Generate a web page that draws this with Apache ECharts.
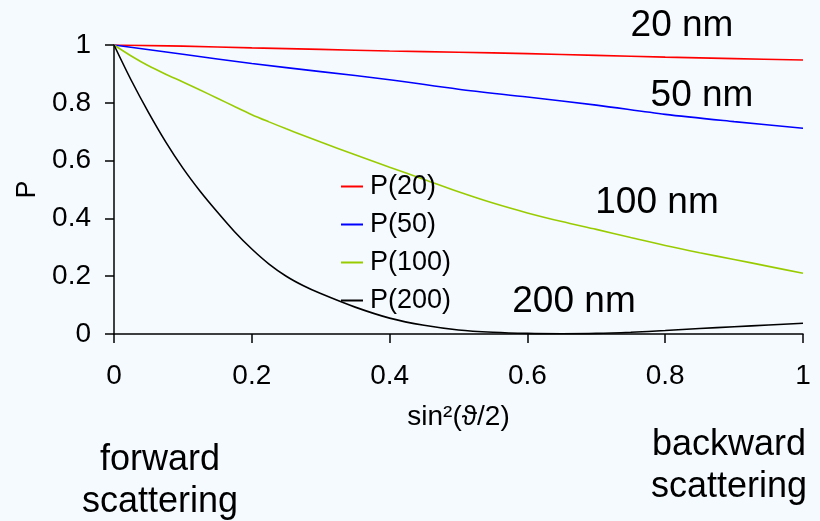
<!DOCTYPE html>
<html>
<head>
<meta charset="utf-8">
<script src="https://cdn.jsdelivr.net/npm/echarts@6/dist/echarts.min.js"></script>
<style>
html,body{margin:0;padding:0;background:#f5faff;}
#c{width:820px;height:521px;}
</style>
</head>
<body>
<div id="c"></div>
<script>
// Data
var seriesNames = ['P(20)', 'P(50)', 'P(100)', 'P(200)'];
var xCoarse = [0, 0.1, 0.2, 0.3, 0.4, 0.5, 0.6, 0.7, 0.8, 0.9, 1];
var xFine = [0, 0.025, 0.05, 0.075, 0.1, 0.125, 0.15, 0.175, 0.2, 0.225, 0.25, 0.275, 0.3, 0.35, 0.4, 0.45, 0.5, 0.55, 0.6, 0.65, 0.7, 0.75, 0.8, 0.85, 0.9, 0.95, 1];
var p20 = [1, 0.996, 0.99, 0.985, 0.979, 0.975, 0.97, 0.964, 0.958, 0.953, 0.948];
var p50 = [1, 0.968, 0.936, 0.908, 0.88, 0.847, 0.82, 0.792, 0.76, 0.735, 0.712];
var p100 = [1, 0.962, 0.928, 0.899, 0.872, 0.844, 0.816, 0.787, 0.759, 0.734, 0.710, 0.687, 0.664, 0.62, 0.577, 0.535, 0.492, 0.453, 0.419, 0.389, 0.362, 0.334, 0.306, 0.281, 0.258, 0.234, 0.210];
var p200 = [1, 0.878, 0.767, 0.665, 0.574, 0.494, 0.422, 0.354, 0.294, 0.242, 0.200, 0.167, 0.140, 0.093, 0.055, 0.03, 0.014, 0.006, 0.002, 0.001, 0.002, 0.006, 0.012, 0.019, 0.025, 0.031, 0.037];
var sizeLabels = ['20 nm', '50 nm', '100 nm', '200 nm'];
var sideLabels = ['forward\nscattering', 'backward\nscattering'];

function pairs(xs, ys) { return xs.map(function (x, i) { return [x, ys[i]]; }); }

var FONT = '"Liberation Sans", Arial, sans-serif';
var colors = ['#ff0000', '#0000ff', '#99cc00', '#000000'];
var chart = echarts.init(document.getElementById('c'));

function lineSeries(i, xs, ys, sm) {
  return { name: seriesNames[i], type: 'line', data: pairs(xs, ys), showSymbol: false, smooth: sm,
           color: colors[i], lineStyle: { width: 1.6, color: colors[i] } };
}

var option = {
  backgroundColor: '#f5faff',
  animation: false,
  textStyle: { fontFamily: FONT },
  grid: { left: 114, right: 17, top: 45, bottom: 187, containLabel: false },
  legend: {
    orient: 'vertical',
    left: 336,
    top: 167,
    itemWidth: 22,
    itemHeight: 2,
    itemGap: 9,
    icon: 'rect',
    data: seriesNames,
    textStyle: { fontSize: 27, color: '#000', fontFamily: FONT, lineHeight: 29, padding: [0, 0, 0, 2] }
  },
  xAxis: {
    type: 'value', min: 0, max: 1, interval: 0.2,
    name: 'sin²(ϑ/2)', nameLocation: 'middle', nameGap: 69,
    nameTextStyle: { fontSize: 28, color: '#000', fontFamily: FONT },
    axisLine: { show: true, lineStyle: { color: '#000', width: 1.5 } },
    axisTick: { show: true, inside: false, length: 9, lineStyle: { color: '#000', width: 1.5 } },
    axisLabel: { fontSize: 28, color: '#000', margin: 28, fontFamily: FONT },
    splitLine: { show: false }
  },
  yAxis: {
    type: 'value', min: 0, max: 1, interval: 0.2,
    name: 'P', nameLocation: 'middle', nameGap: 68, nameRotate: 90,
    nameTextStyle: { fontSize: 27, color: '#000', fontFamily: FONT },
    axisLine: { show: true, lineStyle: { color: '#000', width: 1.5 } },
    axisTick: { show: true, inside: false, length: 9, lineStyle: { color: '#000', width: 1.5 } },
    axisLabel: { fontSize: 28, color: '#000', margin: 23, fontFamily: FONT },
    splitLine: { show: false }
  },
  series: [
    lineSeries(0, xCoarse, p20, 0.3),
    lineSeries(1, xCoarse, p50, 0.3),
    lineSeries(2, xFine, p100, 0.3),
    lineSeries(3, xFine, p200, 0.3)
  ],
  graphic: [
    { type: 'text', x: 682, y: 26, style: { text: sizeLabels[0], font: '37px ' + FONT, fill: '#000', textAlign: 'center', textVerticalAlign: 'middle' } },
    { type: 'text', x: 702, y: 96, style: { text: sizeLabels[1], font: '37px ' + FONT, fill: '#000', textAlign: 'center', textVerticalAlign: 'middle' } },
    { type: 'text', x: 657, y: 203, style: { text: sizeLabels[2], font: '37px ' + FONT, fill: '#000', textAlign: 'center', textVerticalAlign: 'middle' } },
    { type: 'text', x: 574, y: 302, style: { text: sizeLabels[3], font: '37px ' + FONT, fill: '#000', textAlign: 'center', textVerticalAlign: 'middle' } },
    { type: 'text', x: 160, y: 481, style: { text: sideLabels[0], font: '36px ' + FONT, lineHeight: 42, fill: '#000', textAlign: 'center', textVerticalAlign: 'middle' } },
    { type: 'text', x: 729, y: 466, style: { text: sideLabels[1], font: '36px ' + FONT, lineHeight: 42, fill: '#000', textAlign: 'center', textVerticalAlign: 'middle' } }
  ]
};
chart.setOption(option);
</script>
</body>
</html>
